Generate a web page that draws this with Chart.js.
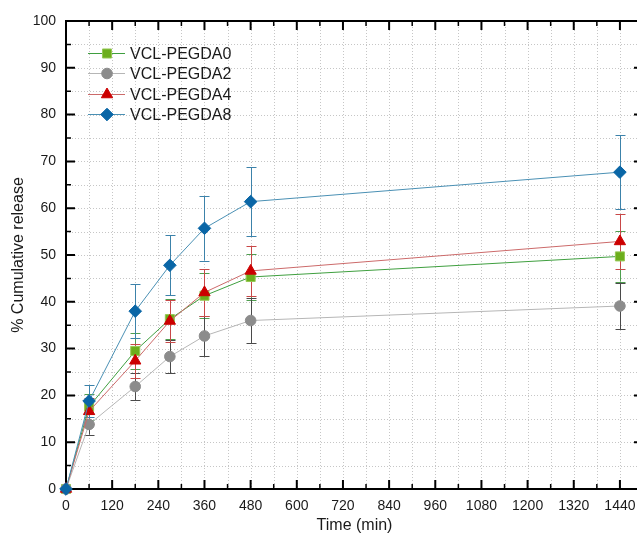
<!DOCTYPE html>
<html>
<head>
<meta charset="utf-8">
<script src="https://cdn.jsdelivr.net/npm/chart.js@4.4.1/dist/chart.umd.min.js"></script>
<style>
  html, body { margin: 0; padding: 0; background: #fff; overflow: hidden; }
  #wrap { width: 652px; height: 535px; }
</style>
</head>
<body>
<div id="wrap"><canvas id="c" width="652" height="535"></canvas></div>
<script>
// Release time points (min)
const times = [0, 60, 180, 270, 360, 480, 1440];

// Cumulative release (%) and standard deviations per formulation
const pegda0 = [0, 17.6, 29.5, 36.3, 41.3, 45.3, 49.7];
const pegda0Err = [0, 2.8, 3.8, 4.3, 4.8, 5.0, 5.4];
const pegda2 = [0, 13.8, 21.9, 28.3, 32.7, 36.0, 39.1];
const pegda2Err = [0, 2.2, 2.9, 3.6, 4.3, 4.8, 5.0];
const pegda4 = [0, 16.6, 27.4, 35.9, 42.0, 46.6, 52.9];
const pegda4Err = [0, 2.8, 3.6, 4.4, 5.0, 5.4, 5.8];
const pegda8 = [0, 18.8, 38.0, 47.8, 55.7, 61.4, 67.7];
const pegda8Err = [0, 3.4, 5.8, 6.4, 6.9, 7.4, 7.9];

const seriesNames = ['VCL-PEGDA0', 'VCL-PEGDA2', 'VCL-PEGDA4', 'VCL-PEGDA8'];

const FONT = "'Liberation Sans', Arial, sans-serif";

function pts(vals) { return times.map((t, i) => ({ x: t, y: vals[i] })); }

const styles = [
  { line: '#3f9f3f', fill: '#6cae1c', border: '#96c855', err: '#4f9f4f', shape: 'rect', r: 6.4 },
  { line: '#b6b6b6', fill: '#8c8c8c', border: '#8c8c8c', err: '#4a4a4a', shape: 'circle', r: 5.3 },
  { line: '#cc6a6a', fill: '#cc0000', border: '#cc0000', err: '#c84848', shape: 'triangle', r: 6.5 },
  { line: '#4a90b4', fill: '#0a66a6', border: '#0a66a6', err: '#3c82aa', shape: 'rectRot', r: 6.3 }
];
const values = [pegda0, pegda2, pegda4, pegda8];
const errors = [pegda0Err, pegda2Err, pegda4Err, pegda8Err];

const datasets = values.map((v, i) => ({
  label: seriesNames[i],
  data: pts(v),
  errors: errors[i],
  borderColor: styles[i].line,
  borderWidth: 1,
  pointStyle: styles[i].shape,
  pointRadius: styles[i].r,
  pointHoverRadius: styles[i].r,
  pointBackgroundColor: styles[i].fill,
  pointBorderColor: styles[i].border,
  pointBorderWidth: 1,
  tension: 0,
  fill: false,
  clip: false,
  order: 4 - i
}));

// Dotted grid at every tick (major and minor), then boxed frame with inward ticks
const frame = {
  id: 'frame',
  beforeDatasetsDraw(chart) {
    const { ctx, chartArea: a, scales: { x, y } } = chart;
    ctx.save();
    ctx.strokeStyle = '#c6c6c6';
    ctx.lineWidth = 1;
    ctx.setLineDash([1, 2]);
    ctx.beginPath();
    for (let t = 60; t < x.max; t += 60) {
      const px = Math.round(x.getPixelForValue(t)) + 0.5;
      ctx.moveTo(px, a.top); ctx.lineTo(px, a.bottom);
    }
    for (let v = 5; v < y.max; v += 5) {
      const py = Math.round(y.getPixelForValue(v)) + 0.5;
      ctx.moveTo(a.left, py); ctx.lineTo(a.right, py);
    }
    ctx.stroke();
    ctx.setLineDash([]);

    ctx.strokeStyle = '#000';
    ctx.lineWidth = 2;
    ctx.strokeRect(a.left, a.top, a.right - a.left, a.bottom - a.top);
    for (let t = 60; t < x.max; t += 60) {
      const px = x.getPixelForValue(t);
      const len = t % 120 === 0 ? 9 : 5;
      ctx.lineWidth = t % 120 === 0 ? 2 : 1.5;
      ctx.beginPath();
      ctx.moveTo(px, a.bottom); ctx.lineTo(px, a.bottom - len);
      ctx.moveTo(px, a.top); ctx.lineTo(px, a.top + len);
      ctx.stroke();
    }
    for (let v = 5; v < y.max; v += 5) {
      const py = y.getPixelForValue(v);
      const len = v % 10 === 0 ? 9 : 5;
      ctx.lineWidth = v % 10 === 0 ? 2 : 1.5;
      ctx.beginPath();
      ctx.moveTo(a.left, py); ctx.lineTo(a.left + len, py);
      ctx.moveTo(a.right, py); ctx.lineTo(a.right - len, py);
      ctx.stroke();
    }
    ctx.restore();
  }
};

// Error bars with caps, drawn beneath the markers
const errorBars = {
  id: 'errorBars',
  beforeDatasetsDraw(chart) {
    const { ctx, scales: { x, y } } = chart;
    ctx.save();
    chart.data.datasets.forEach((ds, di) => {
      ctx.strokeStyle = styles[di].err;
      ctx.lineWidth = 1;
      ds.data.forEach((p, i) => {
        const e = ds.errors[i];
        if (!e) return;
        const px = Math.round(x.getPixelForValue(p.x)) + 0.5;
        const y1 = y.getPixelForValue(p.y + e);
        const y2 = y.getPixelForValue(p.y - e);
        ctx.beginPath();
        ctx.moveTo(px, y1); ctx.lineTo(px, y2);
        ctx.moveTo(px - 5, Math.round(y1) + 0.5); ctx.lineTo(px + 5, Math.round(y1) + 0.5);
        ctx.moveTo(px - 5, Math.round(y2) + 0.5); ctx.lineTo(px + 5, Math.round(y2) + 0.5);
        ctx.stroke();
      });
    });
    ctx.restore();
  }
};

// Legend: line segment with centred marker, then the series name
const legendBox = {
  id: 'legendBox',
  afterDraw(chart) {
    const { ctx } = chart;
    ctx.save();
    const rowY = [53, 73, 94, 114];
    chart.data.datasets.forEach((ds, i) => {
      const yy = rowY[i] + 0.5;
      ctx.strokeStyle = styles[i].line;
      ctx.lineWidth = 1;
      ctx.beginPath();
      ctx.moveTo(88, yy); ctx.lineTo(125, yy);
      ctx.stroke();
      ctx.fillStyle = styles[i].fill;
      ctx.strokeStyle = styles[i].border;
      Chart.helpers.drawPoint(ctx, {
        pointStyle: styles[i].shape, radius: styles[i].r, rotation: 0, borderWidth: 1
      }, 107, yy);
      ctx.fillStyle = '#1a1a1a';
      ctx.font = '16px ' + FONT;
      ctx.textBaseline = 'middle';
      ctx.textAlign = 'left';
      ctx.fillText(ds.label, 130, yy + 1);
    });
    ctx.restore();
  }
};

new Chart(document.getElementById('c'), {
  type: 'line',
  data: { datasets },
  options: {
    responsive: false,
    animation: false,
    devicePixelRatio: 1,
    layout: { padding: { top: 21, right: 8, left: 0, bottom: 0 } },
    plugins: { legend: { display: false }, tooltip: { enabled: false } },
    scales: {
      x: {
        type: 'linear',
        min: 0,
        max: 1500,
        border: { display: false },
        grid: { display: false, drawTicks: false },
        ticks: {
          stepSize: 60,
          maxTicksLimit: 100,
          autoSkip: false,
          maxRotation: 0,
          padding: 9,
          color: '#1a1a1a',
          font: { family: FONT, size: 14 },
          callback: v => (v % 120 === 0 && v <= 1440) ? String(v) : ''
        },
        title: {
          display: true,
          text: 'Time (min)',
          color: '#1a1a1a',
          font: { family: FONT, size: 16 },
          padding: { top: 0, bottom: 0 }
        },
        afterFit(s) { s.height = 46; }
      },
      y: {
        min: 0,
        max: 100,
        border: { display: false },
        grid: { display: false, drawTicks: false },
        ticks: {
          stepSize: 5,
          maxTicksLimit: 100,
          autoSkip: false,
          padding: 10,
          color: '#1a1a1a',
          font: { family: FONT, size: 14 },
          callback: v => (v % 10 === 0) ? String(v) : ''
        },
        title: {
          display: true,
          text: '% Cumulative release',
          color: '#1a1a1a',
          font: { family: FONT, size: 16 },
          padding: { top: 9, bottom: 0 }
        },
        afterFit(s) { s.width = 66; }
      }
    }
  },
  plugins: [frame, errorBars, legendBox]
});
</script>
</body>
</html>
